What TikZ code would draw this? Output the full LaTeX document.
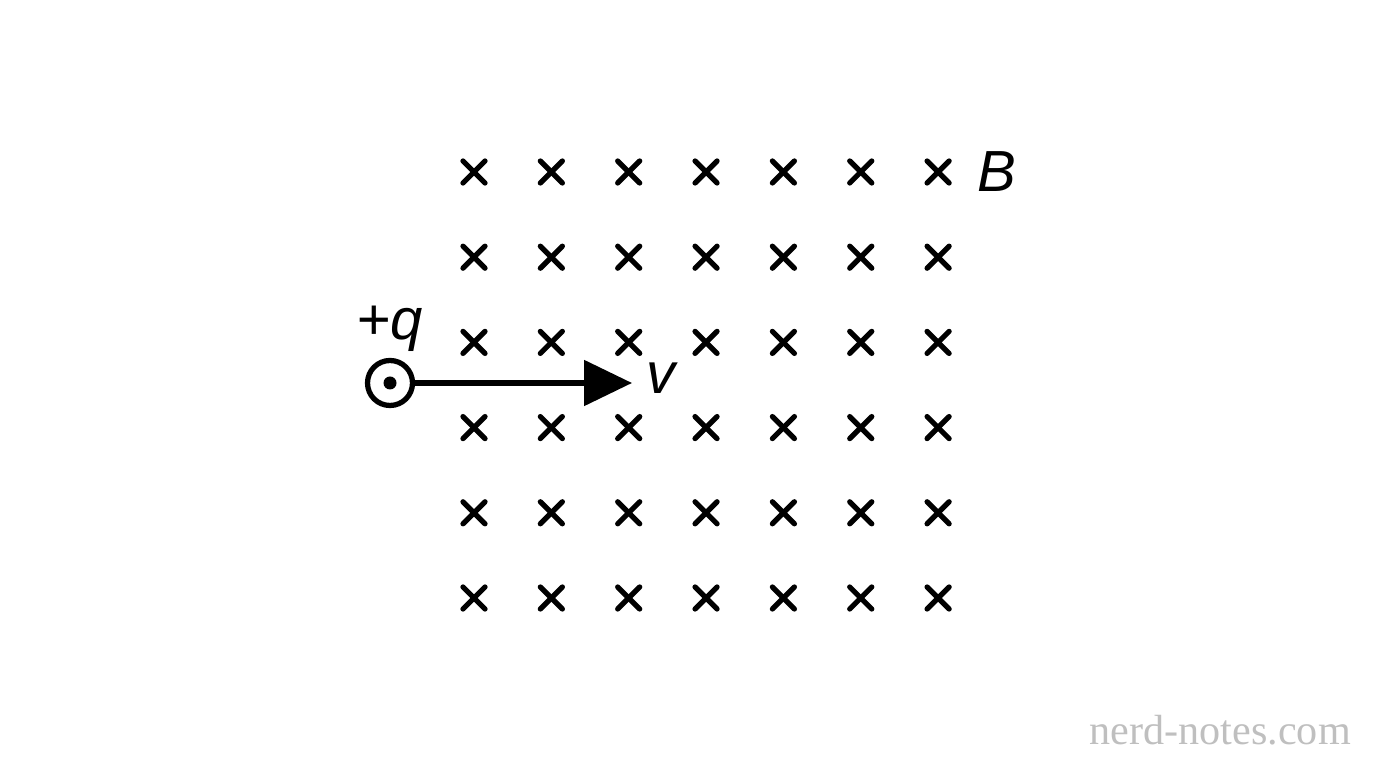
\documentclass[tikz,border=0pt]{standalone}
\usepackage{fontspec}
\setmainfont{Liberation Sans}
\newfontfamily\markfont{Liberation Serif}
\usetikzlibrary{arrows.meta, calc}

\tikzset{
  fieldcross/.style={line width=3pt, line cap=round},
  biglabel/.style={font=\fontsize{33}{38}\selectfont\itshape},
}

\begin{document}
\begin{tikzpicture}
\useasboundingbox (0, 0) rectangle (27.52, 15.36);
% field into the page
\foreach \col in {0,...,6}{
  \foreach \row in {0,...,5}{
    \draw [fieldcross]($(9.48+1.547*\col, 11.92-1.704*\row) + (-.22, -.22)$) -- ++(.44, .44);
    \draw [fieldcross]($(9.48+1.547*\col, 11.92-1.704*\row) + (-.22, .22)$) -- ++(.44, -.44);
  }
}
\node [biglabel, anchor=west](B) at (19.42, 11.92) {B};
% charge out of the page
\node [circle, draw, line width=3pt, minimum size=0.9cm, inner sep=0pt](q) at (7.8, 7.7) {};
\fill (q.center) circle (.13);
\node [biglabel, anchor=south](qlabel) at (7.8, 8.2) {+q};
\coordinate (tip) at (12.64, 7.7);
\draw [-{Triangle[length=0.96cm, width=0.9cm]}, line width=3pt](q) -- (tip);
\node [biglabel, anchor=west](v) at (12.8, 7.8) {v};
\node [font=\markfont\fontsize{24}{28}\selectfont, text=black!25, anchor=east](mark) at (27.14, 0.76) {nerd-notes.com};
\end{tikzpicture}
\end{document}
